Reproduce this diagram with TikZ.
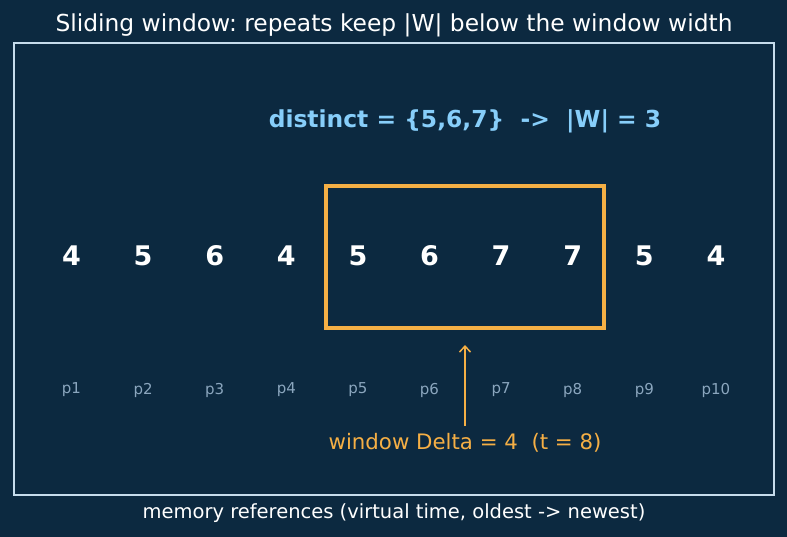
\documentclass[tikz,border=0pt]{standalone}
\usepackage{fontspec}
\setmainfont{DejaVu Sans}
\usetikzlibrary{arrows.meta}
\definecolor{bg}{HTML}{0C2940}
\definecolor{frame}{HTML}{C6DCEC}
\definecolor{sky}{HTML}{87CEFA}
\definecolor{win}{HTML}{F5AF45}
\definecolor{plab}{HTML}{8BA6BE}
\tikzset{
  refnum/.style={text=white,font=\bfseries\fontsize{27}{31}\selectfont,inner sep=0pt},
  poslab/.style={text=plab,font=\fontsize{15}{18}\selectfont,inner sep=0pt},
  winbox/.style={draw=win,line width=3.2pt,minimum width=278pt,minimum height=142pt,inner sep=0pt},
  warrow/.style={draw=win,line width=1.5pt,-{Straight Barb[length=6pt,width=11pt,line width=1.5pt]}},
}
\begin{document}
\frenchspacing
\begin{tikzpicture}[x=1pt,y=-1pt]
\useasboundingbox (0,0) rectangle (787,537);
\fill[bg] (0,0) rectangle (787,537);
\draw[frame,line width=1.5pt] (14,43) rectangle (774,495);
\node[text=white,font=\fontsize{23.35}{27}\selectfont] (title) at (394,25) {Sliding window: repeats keep |W| below the window width};
\node[text=sky,font=\bfseries\fontsize{23.4}{27}\selectfont] (dist) at (465,121) {distinct = \{5,6,7\}\ \ ->\ \ |W| = 3};
\node[winbox] (win) at (465,257) {};
\foreach \v [count=\i] in {4,5,6,4,5,6,7,7,5,4}{
  \pgfmathsetmacro{\xx}{71.5+71.6*(\i-1)}
  \node[refnum] (n\i) at (\xx,256) {\v};
  \node[poslab] (p\i) at (\xx,390) {p\i};
}
\node[text=win,font=\fontsize{21.3}{25}\selectfont] (wl) at (465,443) {window Delta = 4\ \ (t = 8)};
\coordinate (atail) at (465,426);
\coordinate (ahead) at (465,345);
\draw[warrow] (atail) -- (ahead);
\node[text=white,font=\fontsize{19.5}{23}\selectfont] (xlab) at (394,513) {memory references (virtual time, oldest -> newest)};
\end{tikzpicture}
\end{document}
